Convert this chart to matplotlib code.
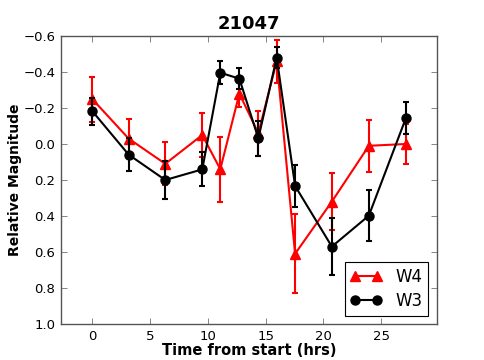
import matplotlib
matplotlib.use("Agg")
import matplotlib.pyplot as plt
import numpy as np

# time from start (hrs)
time_hrs = [0.0, 3.15, 6.32, 9.52, 11.08, 12.73, 14.37, 15.96, 17.55, 20.73, 23.93, 27.13]

# W4 (red triangles)
w4_mag = [-0.25, -0.03, 0.11, -0.05, 0.14, -0.28, -0.06, -0.46, 0.61, 0.32, 0.01, 0.0]
w4_err = [0.125, 0.11, 0.12, 0.12, 0.18, 0.077, 0.125, 0.12, 0.22, 0.16, 0.143, 0.11]

# W3 (black circles)
w3_mag = [-0.183, 0.059, 0.2, 0.141, -0.396, -0.363, -0.031, -0.48, 0.233, 0.57, 0.398, -0.143]
w3_err = [0.075, 0.09, 0.105, 0.095, 0.065, 0.06, 0.095, 0.06, 0.116, 0.157, 0.142, 0.09]

fig = plt.figure(figsize=(4.85, 3.6), dpi=100)
ax = fig.add_axes([0.1258, 0.1, 0.7746, 0.8])

for mag, err, col, mk, lab in [(w4_mag, w4_err, "#ff0000", "^", "W4"),
                               (w3_mag, w3_err, "#000000", "o", "W3")]:
    ax.errorbar(time_hrs, mag, yerr=err, fmt="none", ecolor=col,
                elinewidth=1.5, capsize=2.5, capthick=1.5)
    ax.plot(time_hrs, mag, color=col, marker=mk, ms=6.5, lw=1.5,
            mec=col, mfc=col, label=lab)

ax.set_xlim(-2.7, 29.8)
ax.set_ylim(1.0, -0.6)
ax.set_xticks([0, 5, 10, 15, 20, 25])
ax.set_yticks(np.arange(-0.6, 1.01, 0.2))
ax.set_yticklabels(["\u22120.6", "\u22120.4", "\u22120.2", "0.0", "0.2", "0.4", "0.6", "0.8", "1.0"])
ax.tick_params(direction="in", top=True, right=True, length=4, width=0.5,
               labelsize=9.5, pad=4, color="#555555")
for s in ax.spines.values():
    s.set_color("#555555")
    s.set_linewidth(1.0)

ax.set_title("21047", fontsize=13, fontweight="bold", pad=5)
ax.set_xlabel("Time from start (hrs)", fontsize=10.5, fontweight="bold", labelpad=0)
ax.set_ylabel("Relative Magnitude", fontsize=10, fontweight="bold", labelpad=1)

leg = ax.legend(loc="lower right", numpoints=2, fontsize=12, fancybox=False,
                handlelength=1.9, borderpad=0.35, labelspacing=0.35,
                framealpha=1, borderaxespad=0.5)
leg.get_frame().set_edgecolor("#000000")
leg.get_frame().set_linewidth(0.8)

fig.savefig("out.png", dpi=100)
